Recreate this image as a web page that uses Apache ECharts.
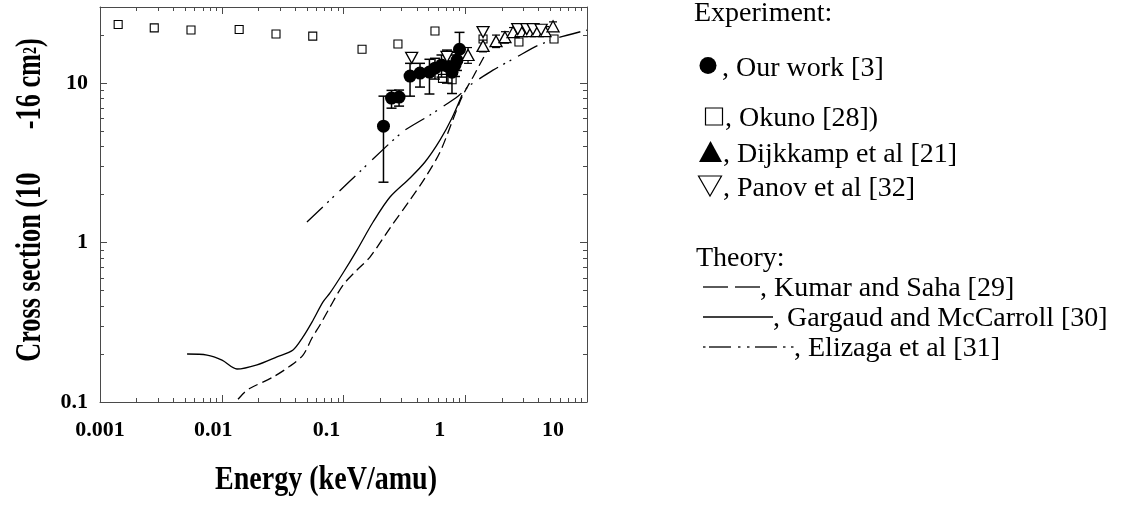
<!DOCTYPE html>
<html>
<head>
<meta charset="utf-8">
<script src="https://cdn.jsdelivr.net/npm/echarts@6/dist/echarts.min.js"></script>
<style>
  html, body { margin: 0; padding: 0; background: #fff; }
  #chart { width: 1138px; height: 506px; }
</style>
</head>
<body>
<div id="chart"></div>
<script>
// Electron-capture cross sections, energies in keV/amu, cross sections in 1e-16 cm^2

// Our work [3] with error bars
const OUR_E  = [0.213, 0.248, 0.286, 0.352, 0.425, 0.508, 0.564, 0.638, 0.708, 0.778, 0.824, 0.855, 0.897];
const OUR_S  = [5.37, 8.05, 8.17, 11.07, 11.56, 11.73, 12.4, 12.97, 12.8, 11.7, 12.97, 13.9, 16.3];
const OUR_LO = [2.39, 6.96, 7.17, 8.28, 9.44, 8.54, 10.6, 10.9, 10.0, 8.6, 11.0, 12.0, 13.9];
const OUR_HI = [8.28, 9.00, 9.04, 13.3, 13.3, 14.1, 14.3, 15.0, 16.1, 13.5, 15.0, 15.6, 20.8];

// Okuno [28]
const OKUNO_E = [0.00141, 0.00279, 0.00559, 0.0139, 0.0279, 0.0559, 0.142, 0.280, 0.564, 0.650, 0.780, 1.40, 2.76, 5.36];
const OKUNO_S = [23.3, 22.2, 21.5, 21.7, 20.3, 19.7, 16.3, 17.6, 21.2, 10.7, 10.5, 18.9, 18.1, 18.9];

// Dijkkamp et al [21]
const DIJ_E  = [1.054, 1.40, 1.79, 2.12, 2.47, 2.87, 3.34, 3.88, 4.52, 5.26];
const DIJ_S  = [15.0, 17.1, 18.3, 19.4, 20.9, 21.2, 21.2, 21.2, 21.2, 22.7];
const DIJ_LO = [13.3, 15.7, 16.7, 17.8, 19.6, 19.9, 19.9, 19.9, 19.9, 21.2];
const DIJ_HI = [16.7, 18.6, 20.0, 21.0, 22.3, 22.6, 22.6, 22.6, 22.6, 24.2];

// Panov et al [32]
const PANOV_E = [0.363, 0.708, 1.40, 2.70, 3.20, 3.60, 4.20];
const PANOV_S = [14.4, 14.6, 20.9, 21.8, 21.8, 21.8, 21.6];

// Theory: Kumar and Saha [29]
const KUMAR_E = [0.0136, 0.0152, 0.0171, 0.0264, 0.0364, 0.0465, 0.0551, 0.0641, 0.0775, 0.0991, 0.129, 0.165, 0.241, 0.352, 0.467, 0.620, 0.778, 0.940, 1.18, 1.45];
const KUMAR_S = [0.104, 0.114, 0.122, 0.1435, 0.168, 0.197, 0.252, 0.304, 0.394, 0.541, 0.673, 0.811, 1.233, 1.85, 2.54, 3.69, 5.69, 8.17, 11.2, 15.0];

// Theory: Gargaud and McCarroll [30]
const GARG_E = [0.00519, 0.00757, 0.01005, 0.01334, 0.0195, 0.0284, 0.0385, 0.0465, 0.0551, 0.0679, 0.0775, 0.0991, 0.129, 0.175, 0.241, 0.352, 0.467, 0.620, 0.778, 0.940];
const GARG_S = [0.200, 0.197, 0.183, 0.161, 0.171, 0.192, 0.212, 0.256, 0.317, 0.424, 0.483, 0.644, 0.897, 1.345, 1.93, 2.54, 3.20, 4.39, 6.04, 8.41];

// Theory: Elizaga et al [31]
const ELIZ_E = [0.0501, 0.113, 0.241, 0.320, 0.513, 0.872, 1.094, 1.69, 2.66, 3.88, 6.0, 10.0];
const ELIZ_S = [1.345, 2.43, 4.21, 5.07, 6.30, 8.28, 9.70, 12.06, 14.6, 17.1, 19.4, 21.5];

// Axis tick labels
const X_TICK_LABELS = ['0.001', '0.01', '0.1', '1', '10'];
const Y_TICK_LABELS = ['0.1', '1', '10'];
const X_MAJOR = [0.001, 0.01, 0.1, 1, 10];
const Y_MAJOR = [0.1, 1, 10];

// minor tick positions 2..9 within each decade
const X_MINOR = [];
for (let d = -3; d < 1; d++) for (let m = 2; m <= 9; m++) X_MINOR.push(+(m * Math.pow(10, d)).toPrecision(3));
const Y_MINOR = [];
for (let d = -1; d < 2; d++) for (let m = 2; m <= 9; m++) {
  const v = +(m * Math.pow(10, d)).toPrecision(3);
  if (v < 30) Y_MINOR.push(v);
}

const AXIS_COLOR = '#4a4a4a';
const TICK_FONT = { fontFamily: 'Liberation Serif', fontWeight: 'bold', fontSize: 22, color: '#000' };

function decadeLabel(labels, offset) {
  return function (v) {
    const l = Math.log10(v);
    const k = Math.round(l);
    return Math.abs(l - k) < 1e-6 && labels[k + offset] !== undefined ? labels[k + offset] : '';
  };
}

function tickAxis(pos, min, max, values, len, showLine) {
  return {
    type: 'log', logBase: 10, min: min, max: max, position: pos, gridIndex: 0,
    axisLine: { show: showLine, lineStyle: { color: AXIS_COLOR, width: 1 } },
    axisTick: { show: true, inside: true, length: len, customValues: values, lineStyle: { color: AXIS_COLOR, width: 1 } },
    axisLabel: { show: false },
    splitLine: { show: false },
    minorTick: { show: false }
  };
}

const xAxes = [
  tickAxis('bottom', 0.001, 10, X_MAJOR, 7, true),
  tickAxis('bottom', 0.001, 10, X_MINOR, 4, false),
  tickAxis('top', 0.001, 10, X_MAJOR, 7, true),
  tickAxis('top', 0.001, 10, X_MINOR, 4, false),
  {
    // label row of the energy axis
    type: 'log', logBase: 10, min: 0.001, max: 20, position: 'bottom', gridIndex: 0,
    axisLine: { show: false }, axisTick: { show: false }, splitLine: { show: false },
    axisLabel: Object.assign({ show: true, margin: 17, formatter: decadeLabel(X_TICK_LABELS, 3) }, TICK_FONT)
  }
];

const yAxes = [
  Object.assign(tickAxis('left', 0.1, 30, Y_MAJOR, 7, true), {
    axisLabel: Object.assign({ show: true, margin: 12, formatter: decadeLabel(Y_TICK_LABELS, 1) }, TICK_FONT),
    axisTick: { show: false }
  }),
  tickAxis('left', 0.1, 30, Y_MAJOR, 7, false),
  tickAxis('left', 0.1, 30, Y_MINOR, 4, false),
  tickAxis('right', 0.1, 30, Y_MAJOR, 7, true),
  tickAxis('right', 0.1, 30, Y_MINOR, 4, false)
];

function zip(a, b) { return a.map((v, i) => [v, b[i]]); }

function errorBars(xs, lo, hi, cap, width, z) {
  return {
    type: 'custom', xAxisIndex: 0, yAxisIndex: 0, z: z, silent: true,
    data: xs.map((x, i) => [x, lo[i], hi[i]]),
    encode: { x: 0, y: [1, 2] },
    renderItem: function (params, api) {
      const a = api.coord([api.value(0), api.value(1)]);
      const b = api.coord([api.value(0), api.value(2)]);
      const st = { stroke: '#000', lineWidth: width };
      return {
        type: 'group',
        children: [
          { type: 'line', shape: { x1: a[0], y1: a[1], x2: b[0], y2: b[1] }, style: st },
          { type: 'line', shape: { x1: a[0] - cap, y1: a[1], x2: a[0] + cap, y2: a[1] }, style: st },
          { type: 'line', shape: { x1: b[0] - cap, y1: b[1], x2: b[0] + cap, y2: b[1] }, style: st }
        ]
      };
    }
  };
}

const series = [
  {
    name: 'Gargaud and McCarroll [30]', type: 'line', data: zip(GARG_E, GARG_S),
    symbol: 'none', smooth: 0.3, z: 2,
    lineStyle: { color: '#000', width: 1.3, type: 'solid' }
  },
  {
    name: 'Kumar and Saha [29]', type: 'line', data: zip(KUMAR_E, KUMAR_S),
    symbol: 'none', smooth: 0.3, z: 2,
    lineStyle: { color: '#000', width: 1.3, type: [10, 5] }
  },
  {
    name: 'Elizaga et al [31]', type: 'line', data: zip(ELIZ_E, ELIZ_S),
    symbol: 'none', smooth: 0.2, z: 2,
    lineStyle: { color: '#000', width: 1.3, type: [22, 6, 2, 5, 2, 8] }
  },
  {
    name: 'Okuno [28]', type: 'scatter', data: zip(OKUNO_E, OKUNO_S),
    symbol: 'rect', symbolSize: 8, z: 3,
    itemStyle: { color: '#fff', borderColor: '#000', borderWidth: 1.1, opacity: 1 }
  },
  errorBars(OUR_E, OUR_LO, OUR_HI, 5, 1.5, 4),
  errorBars(DIJ_E, DIJ_LO, DIJ_HI, 4, 1.2, 4),
  {
    name: 'Our work [3]', type: 'scatter', data: zip(OUR_E, OUR_S),
    symbol: 'circle', symbolSize: 13, z: 5,
    itemStyle: { color: '#000', opacity: 1 }
  },
  {
    name: 'Dijkkamp et al [21]', type: 'scatter', data: zip(DIJ_E, DIJ_S),
    symbol: 'triangle', symbolSize: [12, 11], z: 6,
    itemStyle: { color: '#fff', borderColor: '#000', borderWidth: 1.3, opacity: 1 }
  },
  {
    name: 'Panov et al [32]', type: 'scatter', data: zip(PANOV_E, PANOV_S),
    symbol: 'triangle', symbolRotate: 180, symbolSize: [12, 11], z: 6,
    itemStyle: { color: '#fff', borderColor: '#000', borderWidth: 1.3, opacity: 1 }
  }
];

const LEG_FONT = { fontFamily: 'Liberation Serif', fontSize: 28, fill: '#000', verticalAlign: 'middle', align: 'left' };
function legText(x, y, text) {
  return { type: 'text', x: x, y: y, silent: true, style: Object.assign({ text: text }, LEG_FONT) };
}
function seg(x1, y1, x2, y2, w) {
  return { type: 'line', silent: true, shape: { x1: x1, y1: y1, x2: x2, y2: y2 }, style: { stroke: '#000', lineWidth: w || 1.3 } };
}

const graphic = [
  // axis titles
  {
    type: 'text', x: 326, y: 480, scaleX: 0.85, silent: true,
    style: { text: 'Energy (keV/amu)', fontFamily: 'Liberation Serif', fontWeight: 'bold', fontSize: 33, fill: '#000', align: 'center', verticalAlign: 'middle' }
  },
  {
    type: 'text', x: 31, y: 200, rotation: Math.PI / 2, scaleX: 0.75, silent: true,
    style: {
      text: '{a|Cross section (10}{g| }{a|-16 cm}{s|2}{a|)}',
      align: 'center', verticalAlign: 'middle', fill: '#000',
      rich: {
        a: { fontFamily: 'Liberation Serif', fontWeight: 'bold', fontSize: 35, fill: '#000' },
        g: { fontFamily: 'Liberation Serif', fontSize: 35, width: 58 },
        s: { fontFamily: 'Liberation Serif', fontWeight: 'bold', fontSize: 19, fill: '#000', verticalAlign: 'middle' }
      }
    }
  },
  // experiment key
  legText(694, 13.5, 'Experiment:'),
  { type: 'circle', silent: true, shape: { cx: 708, cy: 65.5, r: 8.5 }, style: { fill: '#000' } },
  legText(722, 69, ', Our work [3]'),
  { type: 'rect', silent: true, shape: { x: 705.5, y: 108, width: 17, height: 17 }, style: { fill: 'none', stroke: '#000', lineWidth: 1.2 } },
  legText(725, 118.5, ', Okuno [28])'),
  { type: 'polygon', silent: true, shape: { points: [[699, 162], [722, 162], [710.5, 141]] }, style: { fill: '#000' } },
  legText(723, 155, ', Dijkkamp et al [21]'),
  { type: 'polygon', silent: true, shape: { points: [[698.5, 176], [721.5, 176], [710, 196]] }, style: { fill: 'none', stroke: '#000', lineWidth: 1.2 } },
  legText(723, 188.5, ', Panov et al [32]'),
  // theory key
  legText(696, 259, 'Theory:'),
  seg(703, 287, 728, 287), seg(735, 287, 760, 287),
  legText(760, 289, ', Kumar and Saha [29]'),
  seg(703, 317, 773, 317),
  legText(773, 319, ', Gargaud and McCarroll [30]'),
  seg(703, 347, 705.5, 347), seg(709, 347, 731, 347), seg(738, 347, 740.5, 347), seg(747, 347, 749.5, 347),
  seg(755, 347, 777, 347), seg(783, 347, 785.5, 347), seg(791, 347, 793.5, 347),
  legText(794, 349, ', Elizaga et al [31]')
];

const chart = echarts.init(document.getElementById('chart'));
chart.setOption({
  animation: false,
  backgroundColor: '#fff',
  grid: { left: 100, top: 7, width: 487, height: 395, containLabel: false },
  xAxis: xAxes,
  yAxis: yAxes,
  series: series,
  graphic: graphic
});
</script>
</body>
</html>
